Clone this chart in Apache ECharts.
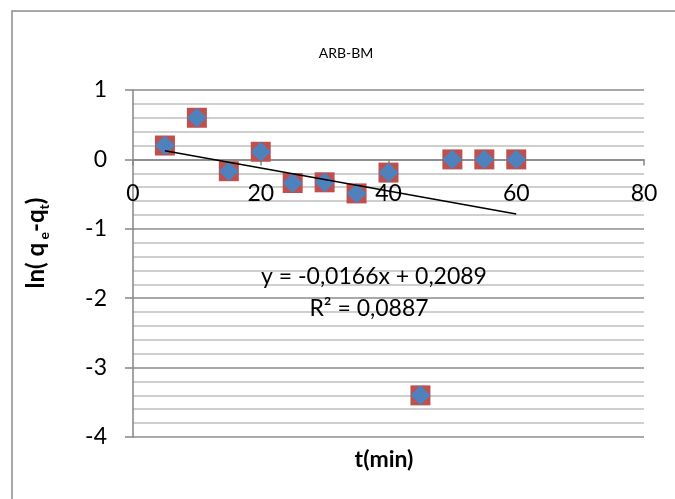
<!DOCTYPE html>
<html>
<head>
<meta charset="utf-8">
<script src="https://cdn.jsdelivr.net/npm/echarts@6/dist/echarts.min.js"></script>
<style>
html,body{margin:0;padding:0;background:#fff;}
#chart{width:675px;height:499px;}
</style>
</head>
<body>
<div id="chart"></div>
<script>
// Data
var tValues = [5, 10, 15, 20, 25, 30, 35, 40, 45, 50, 55, 60];
var lnValues = [0.2, 0.6, -0.17, 0.11, -0.34, -0.33, -0.49, -0.19, -3.4, 0, 0, 0];
var xTicks = [0, 20, 40, 60, 80];
var yTicks = [1, 0, -1, -2, -3, -4];
var trendSlope = -0.0166;
var trendIntercept = 0.2089;
var trendRange = [5, 60];
var titleText = 'ARB-BM';
var eqText = 'y = -0,0166x + 0,2089';
var r2Text = 'R² = 0,0887';

var points = tValues.map(function (t, i) { return [t, lnValues[i]]; });
var trend = trendRange.map(function (t) { return [t, trendIntercept + trendSlope * t]; });

var GRID_TOP = 90, GRID_BOTTOM = 62, H = 499;
var yMin = yTicks[yTicks.length - 1], yMax = yTicks[0];
var plotH = H - GRID_TOP - GRID_BOTTOM;
// distance from the bottom of the plot to the value 0 (so the x axis sits at y = 0)
var zeroOffset = plotH * (0 - yMin) / (yMax - yMin);

var chart = echarts.init(document.getElementById('chart'), null, {renderer: 'canvas'});
var FONT = 'Lato, "Open Sans", sans-serif';
chart.setOption({
  animation: false,
  backgroundColor: '#fff',
  title: {
    text: titleText,
    left: 341, top: 41,
    textAlign: 'center',
    textStyle: {fontFamily: FONT, fontSize: 14, fontWeight: 'normal', color: '#000'}
  },
  grid: {left: 133, top: GRID_TOP, right: 31, bottom: GRID_BOTTOM},
  xAxis: {
    type: 'value', min: xTicks[0], max: xTicks[xTicks.length - 1], interval: 20,
    offset: -zeroOffset,
    axisLine: {onZero: false, lineStyle: {color: '#868686', width: 1.5}},
    axisTick: {show: true, inside: false, length: 6, lineStyle: {color: '#868686', width: 1.5}},
    axisLabel: {margin: 23, fontFamily: FONT, fontSize: 23, color: '#000'},
    splitLine: {show: false}
  },
  yAxis: {
    type: 'value', min: yMin, max: yMax, interval: 1,
    axisLine: {show: true, lineStyle: {color: '#868686', width: 1.5}},
    axisTick: {show: true, inside: false, length: 8, lineStyle: {color: '#868686', width: 1.5}},
    axisLabel: {margin: 26, fontFamily: FONT, fontSize: 23, color: '#000'},
    splitLine: {show: true, lineStyle: {color: '#8c8c8c', width: 1.5}},
    minorTick: {show: false, splitNumber: 5},
    minorSplitLine: {show: true, lineStyle: {color: '#c0c0c0', width: 1.5}}
  },
  graphic: [
    {type: 'rect', shape: {x: 12, y: 11, width: 800, height: 700}, style: {fill: 'none', stroke: '#8c8c8c', lineWidth: 1.5}, z: -1},
    {type: 'text', x: 374, y: 277, z: 10,
     style: {text: eqText, x: 0, y: 0, textAlign: 'center', textVerticalAlign: 'middle', font: '23px ' + FONT, fill: '#000'}},
    {type: 'text', x: 369, y: 309, z: 10,
     style: {text: r2Text, x: 0, y: 0, textAlign: 'center', textVerticalAlign: 'middle', font: '23px ' + FONT, fill: '#000'}},
    {type: 'text', x: 384, y: 460, z: 10,
     style: {text: 't(min)', x: 0, y: 0, textAlign: 'center', textVerticalAlign: 'middle', font: 'bold 23px ' + FONT, fill: '#000'}},
    {type: 'text', x: 36, y: 243, rotation: Math.PI / 2, z: 10,
     style: {
       text: '{m|ln( q}{s| e}{m|-q}{s|t}{m|)}',
       x: 0, y: 0, align: 'center', verticalAlign: 'middle',
       rich: {
         m: {fontFamily: FONT, fontSize: 24, fontWeight: 'bold', color: '#000', lineHeight: 30, verticalAlign: 'middle'},
         s: {fontFamily: FONT, fontSize: 14, fontWeight: 'bold', color: '#000', lineHeight: 30, verticalAlign: 'bottom', padding: [10, 0, 0, 0]}
       }
     }}
  ],
  series: [
    {type: 'scatter', data: points, symbol: 'rect', symbolSize: 20,
     itemStyle: {color: '#C0504D', opacity: 1}, z: 2},
    {type: 'scatter', data: points, symbol: 'diamond', symbolSize: [20, 20],
     itemStyle: {color: '#4F81BD', opacity: 1}, z: 3},
    {type: 'line', data: trend, showSymbol: false, symbol: 'none',
     lineStyle: {color: '#000', width: 1.5}, z: 4}
  ]
});
</script>
</body>
</html>
